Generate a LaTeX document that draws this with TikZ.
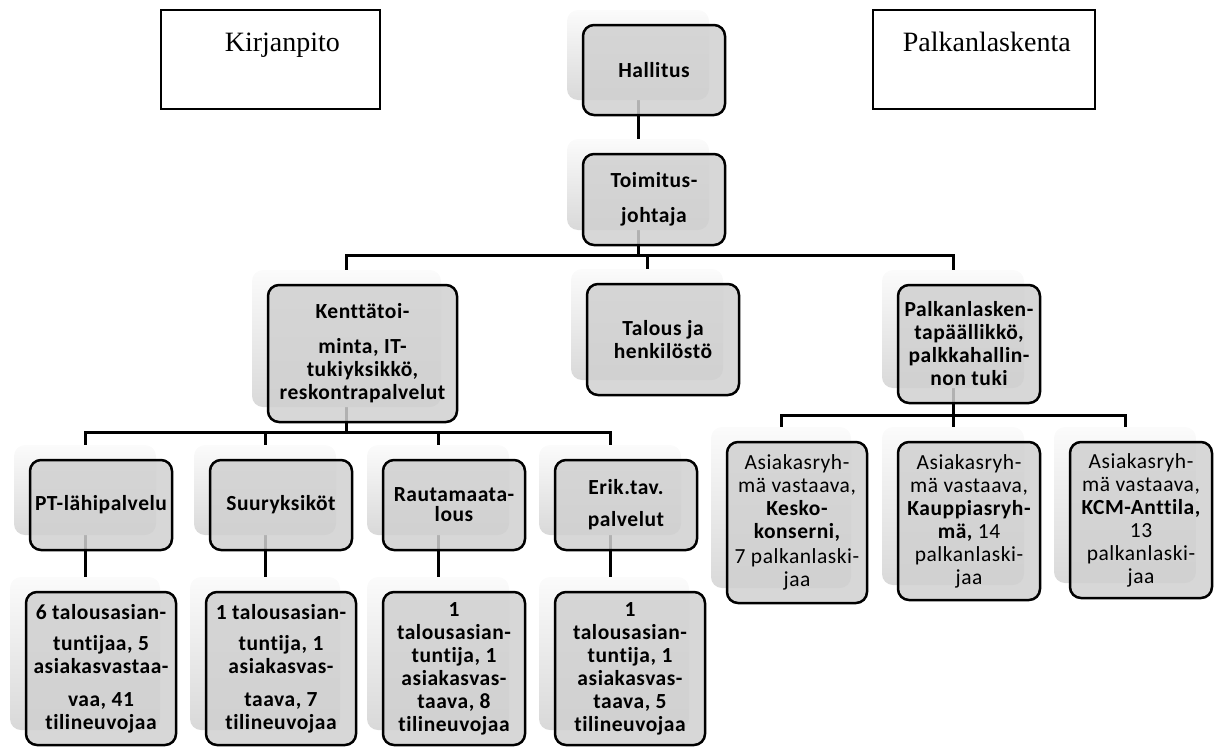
\documentclass[tikz,border=0pt]{standalone}
\usepackage{fontspec}
\setmainfont{Carlito}[Ligatures=NoCommon, LetterSpace=2.5]
\newfontfamily\timesf{Liberation Serif}
\usetikzlibrary{backgrounds}

\definecolor{boxgray}{RGB}{208,208,208}

\tikzset{
  unit/.style={draw=black, line width=2.5pt, rounded corners=11pt, fill=boxgray,
    fill opacity=0.85, text opacity=1, align=center, inner sep=2pt,
    font=\bfseries\fontsize{21.5}{23}\selectfont},
  back/.style={rounded corners=11pt, top color=gray!3, bottom color=gray!30},
  link/.style={line width=3pt},
  sidebox/.style={draw, line width=1.6pt, anchor=north west, align=left,
    inner xsep=0pt, inner ysep=0pt, text height=42pt, text depth=57pt,
    font=\timesf\fontsize{28}{34}\selectfont}
}

% shadow + box, name x y width height text
\newcommand{\orgunit}[6]{%
  \node[back, minimum width=#4, minimum height=#5] (#1s) at ([shift={(-16,-15)}]#2,#3) {};
  \node[unit, minimum width=#4, minimum height=#5] (#1) at (#2,#3) {#6};
}

\begin{document}
\begin{tikzpicture}[x=1pt, y=-1pt]
  \useasboundingbox (0,0) rectangle (1221,747);

  % Side boxes
  \node[sidebox, text width=219] (kirja) at (160,9) {\hspace*{64pt}Kirjanpito};
  \node[sidebox, text width=222] (palkt) at (872,9) {\hspace*{30pt}Palkanlaskenta};

  % Top of the chart
  \orgunit{hall}{654}{70}{142}{90}{Hallitus}
  \orgunit{toim}{654}{199.5}{142}{91}{Toimitus-\\[12pt]johtaja}

  % Second level
  \orgunit{kent}{362.5}{353.5}{189}{137}{Kenttätoi-\\[12pt]minta, IT-\\tukiyksikkö,\\reskontrapalvelut}
  \orgunit{talo}{663}{339.5}{152}{111}{Talous ja\\henkilöstö}
  \orgunit{palk}{969}{344}{142}{118}{Palkanlasken-\\tapäällikkö,\\palkkahallin-\\non tuki}

  % Third level
  \orgunit{ptla}{101}{505}{142}{90}{PT-lähipalvelu}
  \orgunit{suur}{281}{505}{142}{90}{Suuryksiköt}
  \orgunit{raut}{454}{505}{142}{90}{Rautamaata-\\[-3pt]lous}
  \orgunit{erik}{626}{505}{142}{90}{Erik.tav.\\[9pt]palvelut}

  % Staff under third level
  \orgunit{ptlb}{101}{668.5}{150}{153}{6 talousasian-\\[8pt]tuntijaa, 5\\asiakasvastaa-\\[10pt]vaa, 41\\tilineuvojaa}
  \orgunit{suub}{281}{668.5}{150}{153}{1 talousasian-\\[8pt]tuntija, 1\\asiakasvas-\\[10pt]taava, 7\\tilineuvojaa}
  \orgunit{raub}{454}{668.5}{142}{153}{1\\talousasian-\\tuntija, 1\\asiakasvas-\\taava, 8\\tilineuvojaa}
  \orgunit{erib}{630}{668.5}{150}{153}{1\\talousasian-\\tuntija, 1\\asiakasvas-\\taava, 5\\tilineuvojaa}

  % Payroll groups
  \orgunit{kesk}{797}{522.5}{140}{161}{\mdseries Asiakasryh-\\\mdseries mä vastaava,\\Kesko-\\konserni,\\[2pt]\mdseries 7 palkanlaski-\\\mdseries jaa}
  \orgunit{kaup}{969}{521}{142}{158}{\mdseries Asiakasryh-\\\mdseries mä vastaava,\\Kauppiasryh-\\mä, \mdseries 14\\\mdseries palkanlaski-\\\mdseries jaa}
  \orgunit{kcm}{1141}{520}{142}{156}{\mdseries Asiakasryh-\\\mdseries mä vastaava,\\KCM-Anttila,\\\mdseries 13\\\mdseries palkanlaski-\\\mdseries jaa}

  % Connectors
  \begin{pgfonlayer}{background}
    \draw[link] (halls.south) -- (toims.north);
    \draw[link] (kents.north) -- ++(0,-14) coordinate (bus1) -| (palks.north);
    \draw[link] (toims.south) -- (toims.south |- bus1);
    \draw[link] (talos.north) -- (talos.north |- bus1);

    \draw[link] (ptlas.north) -- ++(0,-12) coordinate (bus2) -| (eriks.north);
    \draw[link] (kents.south) -- (kents.south |- bus2);
    \draw[link] (suurs.north) -- (suurs.north |- bus2);
    \draw[link] (rauts.north) -- (rauts.north |- bus2);

    \draw[link] (ptlas.south) -- (ptlas.south |- ptlbs.north);
    \draw[link] (suurs.south) -- (suurs.south |- suubs.north);
    \draw[link] (rauts.south) -- (rauts.south |- raubs.north);
    \draw[link] (eriks.south) -- (eriks.south |- eribs.north);

    \draw[link] (kesks.north) -- ++(0,-11) coordinate (bus3) -| (kcms.north);
    \draw[link] (palks.south) -- (palks.south |- bus3);
    \draw[link] (kaups.north) -- (kaups.north |- bus3);
  \end{pgfonlayer}
\end{tikzpicture}
\end{document}
